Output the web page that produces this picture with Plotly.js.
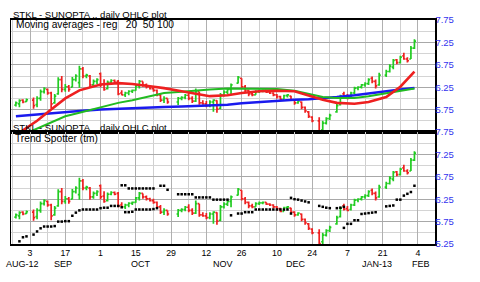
<!DOCTYPE html>
<html><head><meta charset="utf-8">
<script src="https://cdn.plot.ly/plotly-3.0.1.min.js"></script>
<style>html,body{margin:0;padding:0;background:#fff;}#chart{width:480px;height:282px;}</style>
</head><body><div id="chart"></div>
<script>
// ---- data ----
const tradeDates = [
'2012-08-28','2012-08-29','2012-08-30','2012-08-31',
'2012-09-04','2012-09-05','2012-09-06','2012-09-07',
'2012-09-10','2012-09-11','2012-09-12','2012-09-13','2012-09-14',
'2012-09-17','2012-09-18','2012-09-19','2012-09-20','2012-09-21',
'2012-09-24','2012-09-25','2012-09-26','2012-09-27','2012-09-28',
'2012-10-01','2012-10-02','2012-10-03','2012-10-04','2012-10-05',
'2012-10-08','2012-10-09','2012-10-10','2012-10-11','2012-10-12',
'2012-10-15','2012-10-16','2012-10-17','2012-10-18','2012-10-19',
'2012-10-22','2012-10-23','2012-10-24','2012-10-25','2012-10-26',
'2012-10-31','2012-11-01','2012-11-02',
'2012-11-05','2012-11-06','2012-11-07','2012-11-08','2012-11-09',
'2012-11-12','2012-11-13','2012-11-14','2012-11-15','2012-11-16',
'2012-11-19','2012-11-20','2012-11-21','2012-11-23',
'2012-11-26','2012-11-27','2012-11-28','2012-11-29','2012-11-30',
'2012-12-03','2012-12-04','2012-12-05','2012-12-06','2012-12-07',
'2012-12-10','2012-12-11','2012-12-12','2012-12-13','2012-12-14',
'2012-12-17','2012-12-18','2012-12-19','2012-12-20','2012-12-21',
'2012-12-24','2012-12-26','2012-12-27','2012-12-28','2012-12-31',
'2013-01-02','2013-01-03','2013-01-04',
'2013-01-07','2013-01-08','2013-01-09','2013-01-10','2013-01-11',
'2013-01-14','2013-01-15','2013-01-16','2013-01-17','2013-01-18',
'2013-01-22','2013-01-23','2013-01-24','2013-01-25',
'2013-01-28','2013-01-29','2013-01-30','2013-01-31','2013-02-01'];

const openP = [5.85,5.88,5.96,5.93, 5.96,5.86,6.00,6.15, 6.20,6.12,5.90,6.10,6.42, 6.20,6.26,6.25,6.42,6.35,
6.66,6.50,6.50,6.30,6.38, 6.55,6.32,6.22,6.36,6.40, 6.38,6.12,6.08,6.12,6.16, 6.18,6.28,6.38,6.30,6.26,
6.22,6.18,6.08,5.96,6.00, 5.92,6.00,6.02, 6.07,6.00,5.94,6.15,5.90, 5.88,5.84,5.92,5.95,5.78,
6.08,6.14,6.20,6.34, 6.45,6.26,6.18,6.10,6.08, 6.15,6.17,6.18,6.14,6.12, 6.08,6.04,5.98,6.06,6.05,
5.96,5.90,5.92,5.80,5.70, 5.58,5.50,5.30,5.45,5.55, 5.70,5.86,6.10, 6.04,6.02,6.12,6.23,6.25,
6.30,6.33,6.45,6.38,6.30, 6.52,6.60,6.70,6.86, 6.80,6.95,6.88,6.88,7.12];
const highP = [5.93,5.98,5.98,6.00, 6.02,6.05,6.20,6.25, 6.22,6.15,6.10,6.47,6.50, 6.32,6.30,6.48,6.54,6.73,
6.70,6.55,6.52,6.42,6.45, 6.58,6.43,6.40,6.43,6.42, 6.41,6.18,6.15,6.18,6.20, 6.30,6.41,6.38,6.33,6.28,
6.26,6.20,6.12,6.05,6.00, 6.03,6.05,6.10, 6.14,6.05,6.22,6.15,5.96, 5.94,5.96,5.98,5.96,6.12,
6.18,6.22,6.33,6.50, 6.45,6.30,6.20,6.15,6.18, 6.20,6.20,6.18,6.16,6.14, 6.10,6.06,6.08,6.10,6.06,
5.98,5.96,5.93,5.82,5.72, 5.60,5.58,5.50,5.58,5.66, 5.88,6.08,6.15, 6.10,6.15,6.26,6.27,6.32,
6.36,6.45,6.49,6.42,6.57, 6.64,6.76,6.88,6.88, 6.95,7.02,6.92,7.17,7.32];
const lowP = [5.82,5.80,5.89,5.92, 5.77,5.80,5.95,6.11, 6.08,5.78,5.88,6.08,6.14, 6.15,6.15,6.25,6.38,6.24,
6.45,6.45,6.24,6.26,6.32, 6.25,6.17,6.20,6.34,6.34, 6.07,6.07,6.03,6.07,6.12, 6.17,6.22,6.26,6.22,6.20,
6.15,6.05,5.92,5.90,5.88, 5.85,5.96,5.98, 5.96,5.90,5.92,5.86,5.86, 5.80,5.80,5.70,5.68,5.76,
6.04,6.10,6.07,6.33, 6.22,6.14,6.05,6.05,6.08, 6.12,6.14,6.12,6.10,6.05, 6.00,5.96,5.98,6.02,5.94,
5.86,5.88,5.76,5.68,5.56, 5.47,5.20,5.22,5.42,5.52, 5.68,5.84,6.00, 5.98,6.00,6.10,6.18,6.22,
6.26,6.30,6.34,6.22,6.28, 6.48,6.58,6.65,6.76, 6.78,6.86,6.80,6.88,7.10];
const closeP = [5.90,5.95,5.92,5.97, 5.84,6.00,6.15,6.22, 6.12,5.88,6.05,6.42,6.20, 6.26,6.20,6.42,6.50,6.66,
6.50,6.52,6.30,6.38,6.42, 6.30,6.20,6.36,6.40,6.36, 6.10,6.08,6.12,6.16,6.18, 6.28,6.38,6.30,6.26,6.22,
6.18,6.08,5.96,6.00,5.92, 6.00,6.02,6.07, 6.00,5.94,6.15,5.90,5.88, 5.84,5.92,5.96,5.76,6.08,
6.14,6.20,6.30,6.47, 6.26,6.18,6.10,6.08,6.15, 6.17,6.18,6.14,6.12,6.08, 6.04,5.98,6.06,6.08,5.96,
5.90,5.94,5.80,5.72,5.60, 5.50,5.26,5.45,5.55,5.62, 5.84,6.05,6.03, 6.00,6.12,6.23,6.25,6.30,
6.33,6.42,6.38,6.28,6.52, 6.60,6.72,6.85,6.80, 6.92,6.88,6.84,7.12,7.28];

// Trend Spotter dots (one per trading day, null = no dot)
const spotLower = [null,5.31,5.40,5.42, 5.46,5.53,5.60,5.64, 5.64,5.64,5.65,5.75,5.75, 5.76,5.76,5.88,5.95,6.00,
6.02,6.02,6.02,6.02,6.02, 6.05,6.06,6.06,6.10,6.10, 6.10,6.07,5.96,5.96,5.97, 6.02,6.02,6.02,6.02,6.02,
6.03,6.05,null,null,null, null,null,null, null,null,null,null,null, null,null,null,null,null,
null,null,5.89,5.93, 5.93,5.96,5.96,5.96,6.02, 6.02,6.02,6.02,6.02,6.02, 6.02,6.02,6.02,6.02,5.93,
null,null,null,null,null, null,null,null,null,null, null,null,5.61, 5.70,5.70,5.78,5.78,5.92,
5.93,5.94,5.95,5.96,null, 6.09,6.10,6.11,6.24, 6.24,6.33,6.37,6.41,6.55];
const spotUpper = [null,null,null,null, null,null,null,null, null,null,null,null,null, null,null,null,null,null,
null,null,null,null,null, null,null,null,null,null, null,6.56,6.56,6.49,6.49, 6.49,6.49,6.49,6.49,6.49,
6.49,null,6.55,6.55,6.46, 6.36,6.36,6.36, 6.36,6.36,6.29,6.29,6.29, 6.29,6.29,6.24,6.24,6.24,
6.24,6.24,null,null, null,null,null,null,null, null,null,null,null,null, null,null,null,null,6.28,
6.25,6.24,6.22,6.20,6.18, null,6.10,6.08,6.06,6.05, 6.05,6.06,6.08, null,null,null,null,null,
null,null,null,null,null, null,null,null,null, null,null,null,null,null];

// Moving averages (sampled)
const maDates = ['2012-08-28','2012-08-31','2012-09-05','2012-09-11','2012-09-17','2012-09-21','2012-10-01',
'2012-10-08','2012-10-12','2012-10-19','2012-10-25','2012-11-01','2012-11-07','2012-11-13','2012-11-20',
'2012-11-26','2012-12-03','2012-12-10','2012-12-17','2012-12-21','2012-12-27','2013-01-02','2013-01-09',
'2013-01-15','2013-01-22','2013-01-28','2013-02-01'];
const ma20 = [5.18,5.34,5.50,5.75,6.00,6.18,6.31,6.34,6.32,6.27,6.23,6.16,6.10,6.05,6.07,6.12,6.16,6.17,6.16,6.06,5.97,5.90,5.88,5.92,6.03,6.26,6.60];
const ma50 = [5.12,5.22,5.32,5.45,5.60,5.68,5.80,5.90,5.96,6.04,6.12,6.15,6.18,6.20,6.22,6.22,6.22,6.21,6.17,6.10,6.03,6.01,6.01,6.05,6.11,6.17,6.22];
const ma100 = [5.60,5.62,5.64,5.67,5.70,5.72,5.75,5.77,5.79,5.80,5.81,5.82,5.83,5.84,5.86,5.89,5.92,5.95,5.97,5.98,6.00,6.03,6.07,6.11,6.17,6.20,6.23];

// Axis labels
const tickDates = ['2012-09-03','2012-09-17','2012-10-01','2012-10-15','2012-10-29','2012-11-12',
'2012-11-26','2012-12-10','2012-12-24','2013-01-07','2013-01-21','2013-02-04'];
const tickLabels = ['3','17','1','15','29','12','26','10','24','7','21','4'];
const weekDates = ['2012-08-27','2012-09-10','2012-09-24','2012-10-08','2012-10-22','2012-11-05',
'2012-11-19','2012-12-03','2012-12-17','2012-12-31','2013-01-14','2013-01-28'];
const monthLabels = ['AUG-12','SEP','OCT','NOV','DEC','JAN-13','FEB'];
const priceTicksTop = [5.75,6.25,6.75,7.25,7.75];
const priceTicksBottom = [5.25,5.75,6.25,6.75,7.25,7.75];
const priceMinor = [5.5,6.0,6.5,7.0,7.5];

// ---- weekday index scale (weekends removed, holidays left as gaps) ----
const U0 = Date.UTC(2012,8,3);
function wd(s){const p=s.split('-').map(Number);const d=Math.round((Date.UTC(p[0],p[1]-1,p[2])-U0)/864e5);const w=Math.floor(d/7);return w*5+(d-w*7);}
const X = tradeDates.map(wd);
const XM = maDates.map(wd);
const monthPos = [-2,9.3,31.6,54.6,75.5,98.4,110.9];

const GREEN='#22cc22', RED='#ee2020', BLUE='#1a1aee', MAGREEN='#22bb22';
const FONT='"Liberation Sans", Arial, sans-serif';

function ohlc(xa,ya){return {type:'ohlc',x:X,open:openP,high:highP,low:lowP,close:closeP,xaxis:xa,yaxis:ya,
 increasing:{line:{color:GREEN,width:1.7}},decreasing:{line:{color:RED,width:1.7}},tickwidth:0.45,hoverinfo:'skip',showlegend:false};}
function line(y,c,w){return {type:'scatter',mode:'lines',x:XM,y:y,xaxis:'x',yaxis:'y',line:{color:c,width:w},hoverinfo:'skip',showlegend:false};}
function dots(y){return {type:'scatter',mode:'markers',x:X,y:y,xaxis:'x2',yaxis:'y2',marker:{symbol:'square',size:2.5,color:'#000'},hoverinfo:'skip',showlegend:false};}

const data=[ohlc('x','y'),line(ma100,BLUE,2.5),line(ma50,MAGREEN,2),line(ma20,RED,2.6),ohlc('x2','y2'),dots(spotLower),dots(spotUpper)];

const xBase={range:[-5.39,114.83],tickvals:tickDates.map(wd),showgrid:true,gridcolor:'#b0b0b0',gridwidth:1,
 minor:{tickvals:weekDates.map(wd),showgrid:true,gridcolor:'#d0d0d0',gridwidth:1,ticks:''},
 showline:true,mirror:true,linecolor:'#000',linewidth:2,zeroline:false,ticks:'',rangeslider:{visible:false},fixedrange:true};
const yBase={range:[5.25,7.75],side:'right',showgrid:true,gridcolor:'#a8a8a8',gridwidth:1,
 minor:{tickvals:priceMinor,showgrid:true,gridcolor:'#d4d4d4',gridwidth:1,ticks:''},
 showline:true,mirror:true,linecolor:'#000',linewidth:1.5,zeroline:false,ticks:'',ticklabelstandoff:-3,
 tickfont:{family:FONT,size:9.5,color:'#3434ee'},tickformat:'.2f'};

const ann=[];
function txt(t,x,y,s){ann.push({text:t,xref:'paper',yref:'paper',x:x,y:y,xanchor:'left',yanchor:'middle',showarrow:false,font:{family:FONT,size:s,color:'#000'},borderpad:0});}
txt('STKL - SUNOPTA .. daily OHLC plot',0.002,1.0246,9.5);
txt('Moving averages - reg\u00a0\u00a0 20\u00a0 50 100',0.009,0.9777,10.2);
txt('STKL - SUNOPTA .. daily OHLC plot',0.002,0.5223,9.5);
txt('Trend Spotter (tm)',0.007,0.473,10.2);
monthLabels.forEach((m,i)=>ann.push({text:m,xref:'x2',yref:'paper',x:monthPos[i],y:-0.0915,xanchor:'center',yanchor:'middle',showarrow:false,font:{family:FONT,size:9,color:'#000'},borderpad:0}));

const layout={width:480,height:282,margin:{l:11,r:45,t:20,b:38},paper_bgcolor:'#fff',plot_bgcolor:'#fff',showlegend:false,
 font:{family:FONT,size:9.5,color:'#000'},dragmode:false,
 xaxis:Object.assign({},xBase,{anchor:'y',showticklabels:false}),
 xaxis2:Object.assign({},xBase,{anchor:'y2',matches:'x',showticklabels:true,ticktext:tickLabels,ticklabelstandoff:-1,tickfont:{family:FONT,size:8.8,color:'#000'}}),
 yaxis:Object.assign({},yBase,{domain:[0.5,1],anchor:'x',tickvals:priceTicksTop}),
 yaxis2:Object.assign({},yBase,{domain:[0,0.5],anchor:'x2',tickvals:priceTicksBottom}),
 annotations:ann};
Plotly.newPlot('chart',data,layout,{staticPlot:true,displayModeBar:false});
</script></body></html>
